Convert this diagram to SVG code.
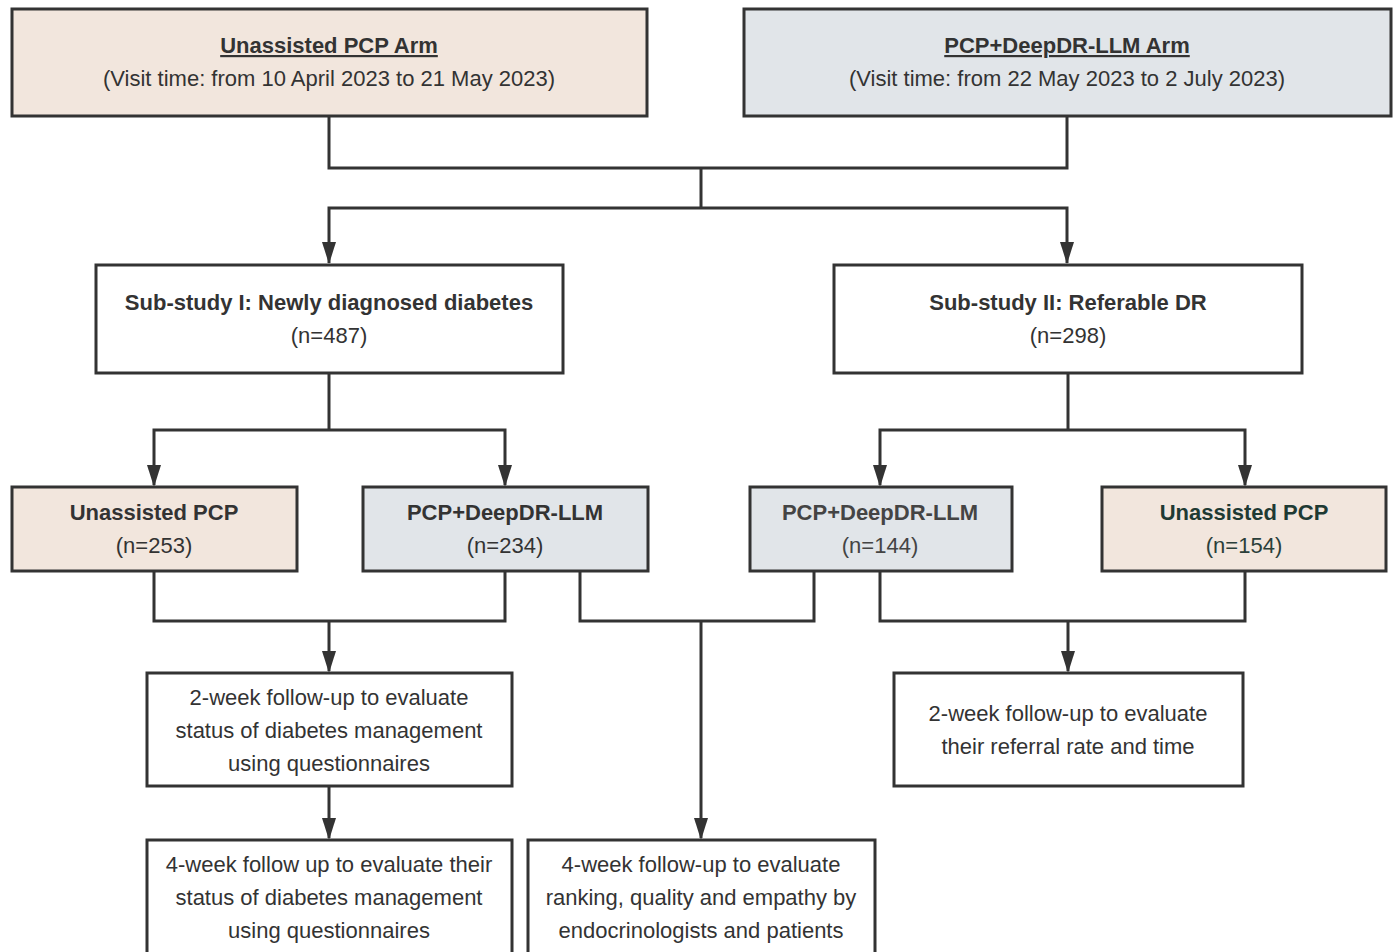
<svg xmlns="http://www.w3.org/2000/svg" width="1395" height="952" viewBox="0 0 1395 952">
<style>
.box{stroke:#333;stroke-width:3}
.peach{fill:#f2e6dd}
.blue{fill:#e1e5e9}
.white{fill:#fff}
text{font-family:"Liberation Sans",Arial,sans-serif;font-size:22px;fill:#333;text-anchor:middle}
.b{font-weight:bold}
.u{text-decoration:underline}
.con{fill:none;stroke:#333;stroke-width:3}
</style>
<rect width="1395" height="952" fill="#fff"/>
<g id="connectors">
<path class="con" d="M329,116 V168 H1067 V116"/>
<path class="con" d="M701,168 V208"/>
<path class="con" d="M329,263 V208 H1067 V263"/>
<path class="con" d="M329,373 V430"/>
<path class="con" d="M154,485 V430 H505 V485"/>
<path class="con" d="M1068,373 V430"/>
<path class="con" d="M880,485 V430 H1245 V485"/>
<path class="con" d="M154,571 V621 H505 V571"/>
<path class="con" d="M329,621 V671"/>
<path class="con" d="M580,571 V621 H814 V571"/>
<path class="con" d="M701,621 V838"/>
<path class="con" d="M880,571 V621 H1245 V571"/>
<path class="con" d="M1068,621 V671"/>
<path class="con" d="M329,786 V838"/>
<g fill="#333">
<path d="M322,242 L336,242 L329,264 Z"/>
<path d="M1060,242 L1074,242 L1067,264 Z"/>
<path d="M147,465 L161,465 L154,487 Z"/>
<path d="M498,465 L512,465 L505,487 Z"/>
<path d="M873,465 L887,465 L880,487 Z"/>
<path d="M1238,465 L1252,465 L1245,487 Z"/>
<path d="M322,651 L336,651 L329,673 Z"/>
<path d="M1061,651 L1075,651 L1068,673 Z"/>
<path d="M322,818 L336,818 L329,840 Z"/>
<path d="M694,818 L708,818 L701,840 Z"/>
</g>
</g>
<g id="arm-unassisted">
<rect class="box peach" x="12" y="9" width="635" height="107"/>
<text class="b u" x="329" y="53">Unassisted PCP Arm</text>
<text x="329" y="86">(Visit time: from 10 April 2023 to 21 May 2023)</text>
</g>
<g id="arm-deepdr">
<rect class="box blue" x="744" y="9" width="647" height="107"/>
<text class="b u" x="1067" y="53">PCP+DeepDR-LLM Arm</text>
<text x="1067" y="86">(Visit time: from 22 May 2023 to 2 July 2023)</text>
</g>
<g id="substudy1">
<rect class="box white" x="96" y="265" width="467" height="108"/>
<text class="b" x="329" y="310">Sub-study I: Newly diagnosed diabetes</text>
<text x="329" y="343">(n=487)</text>
</g>
<g id="substudy2">
<rect class="box white" x="834" y="265" width="468" height="108"/>
<text class="b" x="1068" y="310">Sub-study II: Referable DR</text>
<text x="1068" y="343">(n=298)</text>
</g>
<g id="s1-unassisted">
<rect class="box peach" x="12" y="487" width="285" height="84"/>
<text class="b" x="154" y="520">Unassisted PCP</text>
<text x="154" y="553">(n=253)</text>
</g>
<g id="s1-deepdr">
<rect class="box blue" x="363" y="487" width="285" height="84"/>
<text class="b" x="505" y="520">PCP+DeepDR-LLM</text>
<text x="505" y="553">(n=234)</text>
</g>
<g id="s2-deepdr">
<rect class="box blue" x="750" y="487" width="262" height="84"/>
<text class="b" x="880" y="520" style="fill:#444">PCP+DeepDR-LLM</text>
<text x="880" y="553" style="fill:#444">(n=144)</text>
</g>
<g id="s2-unassisted">
<rect class="box peach" x="1102" y="487" width="284" height="84"/>
<text class="b" x="1244" y="520" style="fill:#1f3a33">Unassisted PCP</text>
<text x="1244" y="553" style="fill:#2b3f3a">(n=154)</text>
</g>
<g id="fu2-left">
<rect class="box white" x="147" y="673" width="365" height="113"/>
<text x="329" y="705">2-week follow-up to evaluate</text>
<text x="329" y="738">status of diabetes management</text>
<text x="329" y="771">using questionnaires</text>
</g>
<g id="fu4-left">
<rect class="box white" x="147" y="840" width="365" height="116"/>
<text x="329" y="872">4-week follow up to evaluate their</text>
<text x="329" y="905">status of diabetes management</text>
<text x="329" y="938">using questionnaires</text>
</g>
<g id="fu4-center">
<rect class="box white" x="528" y="840" width="347" height="116"/>
<text x="701" y="872">4-week follow-up to evaluate</text>
<text x="701" y="905">ranking, quality and empathy by</text>
<text x="701" y="938">endocrinologists and patients</text>
</g>
<g id="fu2-right">
<rect class="box white" x="894" y="673" width="349" height="113"/>
<text x="1068" y="721">2-week follow-up to evaluate</text>
<text x="1068" y="754">their referral rate and time</text>
</g>
</svg>
